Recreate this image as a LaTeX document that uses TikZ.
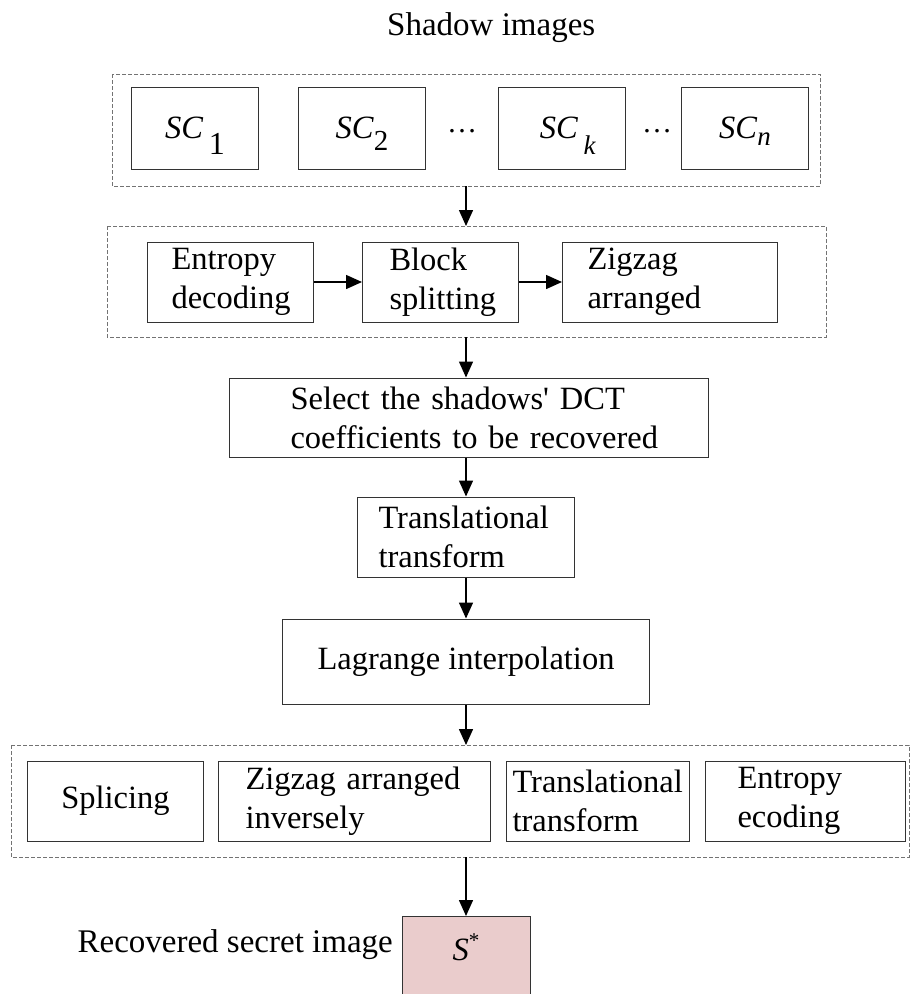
\documentclass[tikz,border=0pt]{standalone}
\usepackage{fontspec}
\setmainfont{Liberation Serif}[Ligatures=TeXOff]
\usetikzlibrary{arrows.meta}
\definecolor{pinkfill}{RGB}{234,204,204}
\hyphenpenalty=10000
\exhyphenpenalty=10000
\newcommand{\twolines}[3]{\hspace*{#1}#2\\\hspace*{#1}#3}
\begin{document}
\begin{tikzpicture}[x=1pt,y=-1pt,
 box/.style={draw=black!80, line width=1pt, inner ysep=0pt, font=\fontsize{32.5}{39}\selectfont, align=left},
 lbox/.style={box, anchor=west, inner xsep=0pt, text width=#1, minimum height=80pt},
 cbox/.style={box, anchor=west, inner xsep=0pt, align=center, minimum width=#1, minimum height=80pt},
 dbox/.style={draw=black!55, dash pattern=on 4pt off 2pt, line width=0.8pt},
 arr/.style={-{Triangle[length=16pt,width=14pt]}, line width=1.5pt},
 sc/.style={box, inner xsep=0pt, minimum width=127pt, minimum height=82pt, anchor=west, font=\fontsize{32.5}{34}\selectfont},
 plain/.style={inner sep=0pt, font=\fontsize{33}{39}\selectfont},
]
\useasboundingbox (0,0) rectangle (910,994);

\node[plain, anchor=base west] (title) at (387,35) {Shadow images};

% top group
\draw[dbox] (112,74) rectangle (820,186);
\coordinate (d1b) at (466,186);
\node[sc] (sc1) at (131,128) {\textit{SC}\,\raisebox{-16pt}[0pt][0pt]{\fontsize{32}{32}\selectfont 1}};
\node[sc] (sc2) at (298,128) {\textit{SC}\raisebox{-12pt}[0pt][0pt]{\fontsize{29}{29}\selectfont 2}};
\node[plain, font=\fontsize{30}{30}\selectfont] (dots1) at (462,131) {…};
\node[sc] (sck) at (498,128) {\hspace{12pt}\textit{SC}\,\raisebox{-16pt}[0pt][0pt]{\fontsize{27}{27}\selectfont\textit{k}}};
\node[plain, font=\fontsize{30}{30}\selectfont] (dots2) at (657,131) {…};
\node[sc] (scn) at (681,128) {\textit{SC}\raisebox{-7pt}[0pt][0pt]{\fontsize{27}{27}\selectfont\textit{n}}};

% second group
\coordinate (d2t) at (466,226);
\draw[dbox] (107,226) rectangle (826,337);
\coordinate (d2b) at (466,337);
\node[lbox=166pt] (ent) at (147,282) {\twolines{24pt}{Entropy}{decoding}};
\node[lbox=156pt] (blk) at (362,282) {\twolines{27pt}{Block}{splitting}};
\node[lbox=215pt] (zig) at (562,282) {\twolines{25pt}{Zigzag}{arranged}};

\node[lbox=479pt, minimum height=79pt] (sel) at (229,417.5) {\twolines{61pt}{Select the shadows' DCT}{coefficients to be recovered}};
\node[lbox=217pt] (tra) at (357,537) {\twolines{21pt}{Translational}{transform}};
\node[cbox=367pt, minimum height=85pt] (lag) at (282,661.5) {Lagrange interpolation};

% bottom group
\coordinate (d3t) at (466,745);
\draw[dbox] (11,745) rectangle (909,857);
\coordinate (d3b) at (466,857);
\node[cbox=176pt] (spl) at (27,801) {Splicing};
\node[lbox=272pt] (zin) at (218,801) {\twolines{27pt}{Zigzag arranged}{inversely}};
\node[lbox=183pt] (trb) at (506,801) {\twolines{6pt}{Translational}{transform}};
\node[lbox=200pt] (enb) at (705,801) {\twolines{32pt}{Entropy}{ecoding}};

\node[box, fill=pinkfill, inner sep=0pt, minimum width=128pt, minimum height=84pt, anchor=north west] (s) at (402,916) {};
\node[inner sep=0pt, anchor=base, font=\fontsize{32.5}{34}\selectfont] (stext) at (466,960) {\textit{S}\raisebox{13pt}{\fontsize{21}{21}\selectfont *}};
\node[plain, anchor=base east] (rec) at (393,952) {Recovered secret image};

% arrows
\draw[arr] (d1b) -- (d2t);
\draw[arr] (ent) -- (blk);
\draw[arr] (blk) -- (zig);
\draw[arr] (d2b) -- (sel.north -| d2b);
\draw[arr] (sel.south -| d2b) -- (tra.north -| d2b);
\draw[arr] (tra.south -| d2b) -- (lag.north -| d2b);
\draw[arr] (lag.south -| d2b) -- (d3t);
\draw[arr] (d3b) -- (s.north -| d3b);
\end{tikzpicture}
\end{document}
